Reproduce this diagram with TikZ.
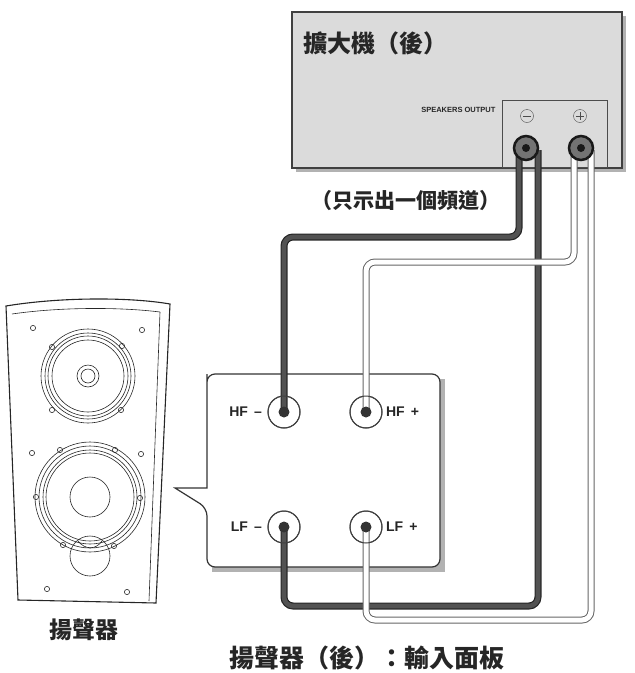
\documentclass[tikz,border=0pt]{standalone}
\usepackage{fontspec}
\setmainfont{Liberation Sans}
\newfontfamily\cjk{Noto Sans CJK TC}
\usetikzlibrary{positioning}

\tikzset{
  darkcable/.style={line width=7pt, draw=black!85, rounded corners=9pt},
  darkcore/.style={line width=4.6pt, draw=black!68, rounded corners=9pt},
  whitecable/.style={line width=1pt, draw=black!60, double=white, double distance=5pt, rounded corners=9pt},
  post/.style={circle, draw=black!75, line width=1pt, minimum size=32pt, inner sep=0pt},
  postdot/.style={circle, fill=black!80, minimum size=11pt, inner sep=0pt},
  knob/.style={circle, draw=black!90, fill=black!55, line width=2.5pt, minimum size=24pt, inner sep=0pt},
  lbl/.style={font=\bfseries\fontsize{14}{14}\selectfont, text=black!85},
  thin/.style={line width=0.6pt, draw=black!85}
}

\begin{document}
\begin{tikzpicture}[x=1pt, y=-1pt]
    \useasboundingbox (0,0) rectangle (635,673);

    % amplifier
    \fill[black!30] (296,16) rectangle (626,172);
    \filldraw[fill=black!14, draw=black!75, line width=1.2pt] (292,12) rectangle (622,168);
    \node[anchor=west, font=\cjk\bfseries\fontsize{24}{24}\selectfont, text=black!85] (amptitle) at (300,43) {擴大機（後）};
    \draw[black!70, line width=0.8pt] (502,100) rectangle (607,167);
    \node[anchor=east, font=\bfseries\fontsize{7.5}{7.5}\selectfont, text=black!85] (spk) at (499,110) {SPEAKERS OUTPUT};
    \node[circle, draw=black!70, minimum size=13pt, inner sep=0pt] (minus) at (527,116) {};
    \draw[black!70] (minus.west) ++(2.5,0) -- ++(8,0);
    \node[circle, draw=black!70, minimum size=13pt, inner sep=0pt] (plus) at (580,116) {};
    \draw[black!70] (plus.west) ++(2.5,0) -- ++(8,0) (plus.north) ++(0,2.5) -- ++(0,8);
    \node[font=\cjk\bfseries\fontsize{21}{21}\selectfont, text=black!85] (note) at (406,201) {（只示出一個頻道）};

    % panel
    \fill[black!30] (212,379) rectangle (445,572);
    \filldraw[fill=white, draw=black!80, line width=1.2pt, rounded corners=8pt]
        (207,488) -- (207,382) -- (207,374) -- (440,374) -- (440,567) -- (207,567) -- (207,508)
        [sharp corners] -- (175,488) -- cycle;
    \node[post] (hfm) at (284,412) {};
    \node[post] (hfp) at (366,412) {};
    \node[post] (lfm) at (284,527) {};
    \node[post] (lfp) at (366,527) {};

    % cables
    \coordinate (am1) at (519,150);
    \coordinate (am2) at (538,150);
    \coordinate (ap1) at (574,150);
    \coordinate (ap2) at (591,150);
    \coordinate (b1) at (519,237);
    \coordinate (b2) at (538,606);
    \coordinate (b3) at (574,262);
    \coordinate (b4) at (591,620);
    \foreach \s in {darkcable,darkcore}{
        \draw[\s] (am1) -- (b1) -| (hfm.center);
        \draw[\s] (am2) -- (b2) -| (lfm.center);
    }
    \draw[whitecable] (ap1) -- (b3) -| (hfp.center);
    \draw[whitecable] (ap2) -- (b4) -| (lfp.center);

    \foreach \p in {hfm,hfp,lfm,lfp}{
        \node[post] at (\p) {};
        \node[postdot] at (\p) {};
    }
    \node[knob] (ak1) at (526,148) {};
    \node[knob] (ak2) at (581,148) {};
    \fill[black!90] (ak1) circle (4pt) (ak2) circle (4pt);

    % labels
    \node[lbl, left=2pt of hfm] {HF \,\textendash};
    \node[lbl, right=0pt of hfp] {HF \,+};
    \node[lbl, left=2pt of lfm] {LF \,\textendash};
    \node[lbl, right=0pt of lfp] {LF \,+};

    % speaker
    \draw[thin, line width=1.1pt] (6,306) .. controls (60,297) and (130,297) .. (170,304)
        -- (156,603) -- (18,600) -- cycle;
    \draw[thin] (12,314) .. controls (60,307) and (120,307) .. (160,312);
    \draw[thin] (160,312) -- (149,601);
    \foreach \r in {47,43,40,36}{\draw[thin] (88,376) circle (\r pt);}
    \foreach \r in {11,7}{\draw[thin] (88,376) circle (\r pt);}
    \foreach \r in {55,51,47,44}{\draw[thin] (90,497) circle (\r pt);}
    \draw[thin] (90,497) circle (20pt);
    \draw[thin] (90,556) circle (20pt);
    \draw[thin] (78,541) .. controls (85,550) and (96,550) .. (102,541);
    \foreach \x/\y in {33/328,142/330,52/347,122/346,52/410,121/410,32/453,141/454,60/450,115/450,36/497,140/498,63/545,114/546,47/589,127/592}{
        \draw[thin] (\x,\y) circle (2.6pt);
    }
    \node[font=\cjk\bfseries\fontsize{23}{23}\selectfont, text=black!85] (spklbl) at (84,630) {揚聲器};
    \node[font=\cjk\bfseries\fontsize{25}{25}\selectfont, text=black!85] (panellbl) at (367,658) {揚聲器（後）：輸入面板};
\end{tikzpicture}
\end{document}
